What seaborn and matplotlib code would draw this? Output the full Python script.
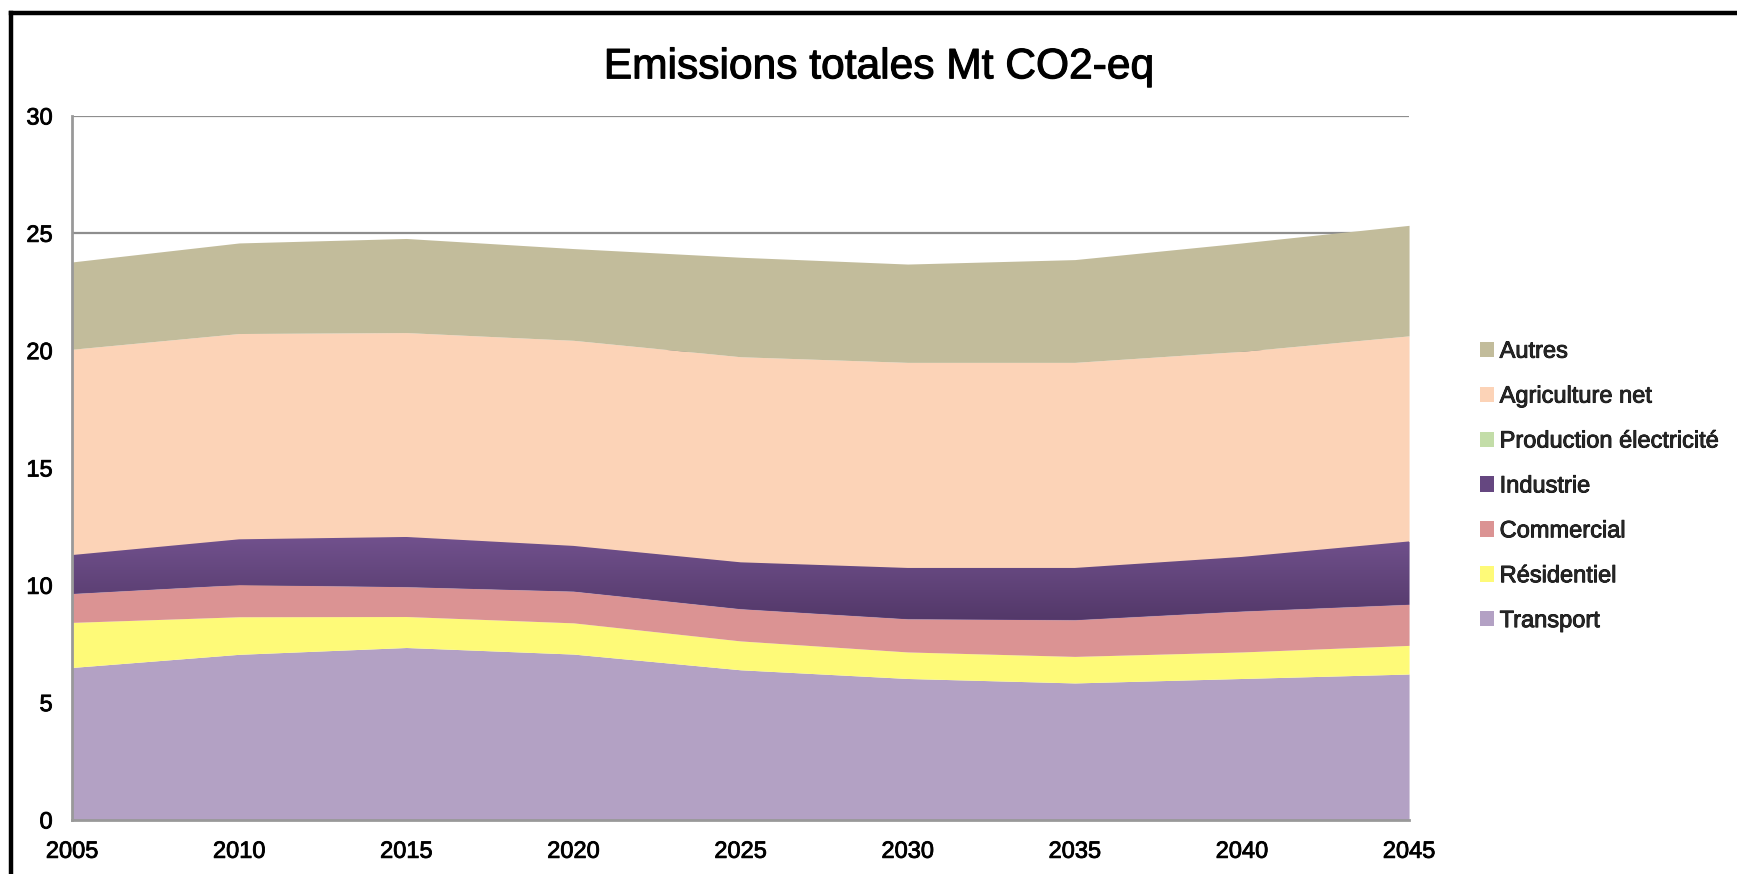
import numpy as np
import pandas as pd
import matplotlib
matplotlib.use("Agg")
import matplotlib.pyplot as plt
import matplotlib.patheffects as pe
from matplotlib.patches import Patch
from matplotlib.lines import Line2D
import seaborn as sns

# Emissions by sector, Mt CO2-eq
years = [2005, 2010, 2015, 2020, 2025, 2030, 2035, 2040, 2045]
transport = [6.50, 7.06, 7.35, 7.07, 6.40, 6.03, 5.84, 6.03, 6.22]
residentiel = [1.92, 1.60, 1.32, 1.33, 1.23, 1.13, 1.13, 1.13, 1.22]
commercial = [1.23, 1.37, 1.27, 1.35, 1.37, 1.41, 1.56, 1.74, 1.75]
industrie = [1.64, 1.93, 2.12, 1.93, 1.98, 2.17, 2.21, 2.31, 2.68]
production_electricite = [0, 0, 0, 0, 0, 0, 0, 0, 0]
agriculture_net = [8.77, 8.77, 8.71, 8.76, 8.76, 8.76, 8.76, 8.76, 8.76]
autres = [3.72, 3.86, 4.01, 3.91, 4.24, 4.19, 4.38, 4.62, 4.71]

sectors = ["Transport", "Résidentiel", "Commercial", "Industrie",
           "Production électricité", "Agriculture net", "Autres"]
colors = ["#B3A1C4", "#FEFA78", "#DB9393", "#654780",
          "#C3DDA8", "#FCD3B7", "#C2BC9B"]

df = pd.DataFrame({
    "Transport": transport,
    "Résidentiel": residentiel,
    "Commercial": commercial,
    "Industrie": industrie,
    "Production électricité": production_electricite,
    "Agriculture net": agriculture_net,
    "Autres": autres,
}, index=years)

sns.set_theme(style="white")
plt.rcParams["font.family"] = ["Liberation Sans", "DejaVu Sans"]

fig = plt.figure(figsize=(17.37, 8.74), dpi=100)
ax = fig.add_axes([0.0415, 0.0618, 0.7697, 0.8055])

x = np.array(years, dtype=float)
cum = np.zeros(len(years))
polys = []
for name, col in zip(sectors, colors):
    vals = df[name].to_numpy(dtype=float)
    top = cum + vals
    poly = ax.fill_between(x, cum, top, color=col, linewidth=0, zorder=2)
    polys.append((name, poly, cum.copy(), top.copy()))
    cum = top

# Vertical shading on the industry band
for name, poly, lo, hi in polys:
    if name == "Industrie":
        ymin, ymax = lo.min(), hi.max()
        grad = np.linspace(0, 1, 256).reshape(-1, 1)
        cmap = matplotlib.colors.LinearSegmentedColormap.from_list(
            "ind", ["#533869", "#71518D"])
        im = ax.imshow(grad, extent=[x[0], x[-1], ymin, ymax], origin="lower",
                       aspect="auto", cmap=cmap, zorder=2.1,
                       interpolation="bilinear")
        im.set_clip_path(poly.get_paths()[0], transform=ax.transData)

ax.set_xlim(2005, 2045)
ax.set_ylim(0, 30)
ax.set_xticks(years)
ax.set_xticklabels([str(y) for y in years])
ax.set_yticks([0, 5, 10, 15, 20, 25, 30])
ax.yaxis.grid(True, color="#8E8E8E", linewidth=1.6, zorder=1)
ax.set_axisbelow(True)
ax.tick_params(axis="both", length=0, labelsize=17, colors="black")
ax.tick_params(axis="x", pad=15)
ax.tick_params(axis="y", pad=14)
for side in ["top", "right"]:
    ax.spines[side].set_visible(False)
for side in ["left", "bottom"]:
    ax.spines[side].set_color("#999999")
    ax.spines[side].set_linewidth(2)
    ax.spines[side].set_zorder(3)

# Slightly heavier glyph strokes
heavy = [pe.withStroke(linewidth=0.6, foreground="black")]
for lbl in ax.get_xticklabels() + ax.get_yticklabels():
    lbl.set_path_effects(heavy)

title = fig.text(0.506, 0.923, "Emissions totales Mt CO2-eq", ha="center",
                 va="center", fontsize=30.6, color="black")
title.set_path_effects([pe.withStroke(linewidth=0.8, foreground="black")])

handles = [Patch(facecolor=c, edgecolor="none", label=s)
           for s, c in zip(sectors, colors)][::-1]
leg = fig.legend(handles=handles, loc="upper left",
                 bbox_to_anchor=(0.8465, 0.621), frameon=False,
                 fontsize=17, handlelength=0.62, handleheight=0.62,
                 handletextpad=0.22, labelspacing=0.97, borderaxespad=0)
for t in leg.get_texts():
    t.set_path_effects(heavy)

# Outer frame
fig.add_artist(Line2D([0.0066, 0.0066], [0.0, 0.9855], transform=fig.transFigure,
                      color="black", linewidth=3.2, solid_capstyle="projecting"))
fig.add_artist(Line2D([0.0066, 1.0], [0.9855, 0.9855], transform=fig.transFigure,
                      color="black", linewidth=3.2, solid_capstyle="projecting"))

fig.savefig("out.png", dpi=100, facecolor="white")
